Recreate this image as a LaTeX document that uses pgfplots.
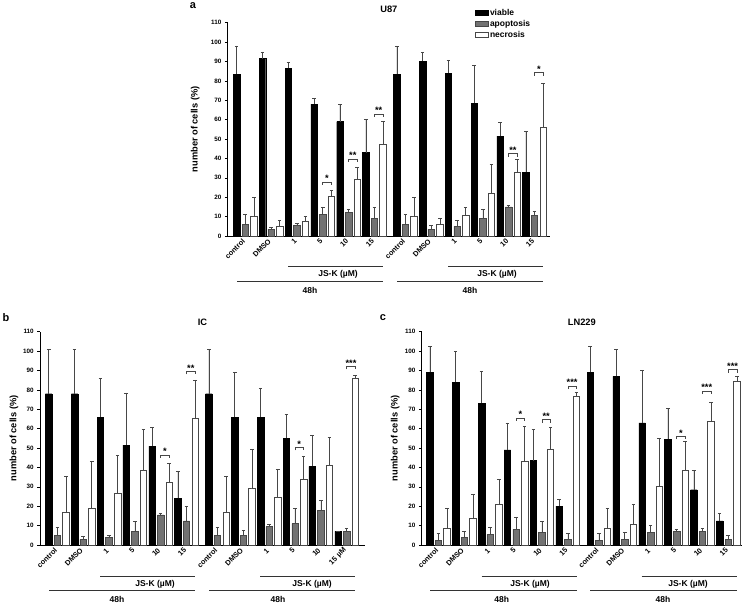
\documentclass[border=0pt]{standalone}
\usepackage{fontspec}
\setmainfont{Liberation Sans}
\usepackage{pgfplots}
\usepackage{pgfplotstable}
\pgfplotsset{compat=1.18}
\usetikzlibrary{calc}

\definecolor{errc}{HTML}{474747}
\definecolor{greybar}{HTML}{727272}

\pgfplotstableread{
x v ve a ae n ne
1 83.5 14.5 6 5 10 10
2 91.5 3.5 3.5 1 5 3
3 86.5 3 5.5 1 7.5 2.5
4 68 3 11 4 20.5 3
5 59 9 12 2 29 6.5
6 43 17 9 6 47.5 11.5
7.2 83.5 14.5 6 5 10 10
8.2 90 4.5 3.5 2 6 3
9.2 84 6.5 5 3 10.5 4.5
10.2 68.5 19.5 9 5 22 15
11.2 51.5 7 15 1 33 6.5
12.2 33 21 10.5 2.5 56 23
}\dataA

\pgfplotstableread{
x v ve a ae n ne
1 78 23 5 4 17 18.5
2 78 23 3 1.5 19 24
3 66 20 4 1 26.5 20
4 51.5 27 7 5 38.5 21
5 51 9.5 15.5 1 32.5 9.5
6 24 14 12.5 7.5 65.5 19.5
7.2 78 23 5 4 17 18.5
8.2 66 23 5 2.5 29 20.5
9.2 66 15 9.5 1 24.5 14.5
10.2 55 12.5 11 8 34 11.5
11.2 40.5 16 18 5 41 14.5
12.2 7 0 7 1.5 86 1.5
}\dataB

\pgfplotstableread{
x v ve a ae n ne
1 89 13.5 2.5 3.5 8.5 10.5
2 84 16 4 3 14 12
3 73 16.5 5.5 3.5 21 13
4 49 14 8 6.5 43 18
5 43.5 16 6.5 5.5 49.5 11
6 20 3.5 3 3 76.5 2.5
7.2 89 13.5 2.5 3.5 8.5 10.5
8.2 87 14 3 3.5 10.5 10.5
9.2 63 27 6.5 3.5 30.5 24.5
10.2 54.5 16 7 1 38.5 15
11.2 28.5 10 7 1.5 64 9.5
12.2 12.5 4 3 2 84.5 2.5
}\dataC

\newcommand{\fytick}{\bfseries\fontsize{6.3}{7}\selectfont}
\newcommand{\fxtick}{\bfseries\fontsize{7.3}{8}\selectfont}
\newcommand{\fmed}{\bfseries\fontsize{8.5}{9}\selectfont}
\newcommand{\flab}{\bfseries\fontsize{9.3}{10}\selectfont}

\newcommand{\sig}[3]{%
  \draw[errc, line width=0.55pt] (axis cs:#1,#2) ++(0pt,-2.8pt) -- ++(0pt,2.8pt) -- ++(8.6pt,0pt) -- ++(0pt,-2.8pt);
  \node[font=\flab, inner sep=0pt, anchor=south] at ($(axis cs:#1,#2)+(4.3pt,0.3pt)$) {#3};
}

\pgfplotsset{
  panel/.style={
    scale only axis, height=213.3pt,
    ymin=0, ymax=110, ytick={0,10,...,110},
    axis x line*=bottom, axis y line*=left,
    axis line style={-, line width=0.7pt, black},
    xtick={1,2,3,4,5,6,7.2,8.2,9.2,10.2,11.2,12.2}, xtick style={draw=none},
    ytick style={line width=0.6pt, black}, tick align=outside, major tick length=2.8pt,
    /pgf/number format/assume math mode=true,
    y tick label style={font=\fytick},
    x tick label style={font=\fxtick, rotate=45, anchor=east, inner sep=1pt, xshift=-1pt},
    ylabel={number of cells (\%)},
    ylabel style={font=\flab, rotate=0, anchor=center},
    title style={font=\flab, at={(0.5,1)}, anchor=center, inner sep=0pt},
    ybar=0pt, bar width=0.25,
    clip=false,
  },
  vbar/.style={fill=black, draw=black, line width=0.4pt, bar shift=-0.333,
    error bars/.cd, y dir=plus, y explicit,
    error bar style={draw=errc, line width=0.55pt},
    error mark options={draw=errc, line width=0.55pt, mark size=1.8pt, rotate=90}},
  abar/.style={fill=greybar, draw=errc, line width=0.5pt, bar shift=0,
    error bars/.cd, y dir=plus, y explicit,
    error bar style={draw=errc, line width=0.55pt},
    error mark options={draw=errc, line width=0.55pt, mark size=1.8pt, rotate=90}},
  nbar/.style={fill=white, draw=errc, line width=0.6pt, bar shift=0.333,
    error bars/.cd, y dir=plus, y explicit,
    error bar style={draw=errc, line width=0.55pt},
    error mark options={draw=errc, line width=0.55pt, mark size=1.8pt, rotate=90}},
}

\begin{document}
\begin{tikzpicture}
\path[use as bounding box] (0pt,0pt) rectangle (746pt,604pt);

% ---------- panel a ----------
\begin{axis}[panel, at={(227.7pt,368pt)}, anchor=south west, width=322.3pt,
  xmin=0.32, xmax=12.8,
  xticklabels={control,DMSO,1,5,10,15,control,DMSO,1,5,10,15},
  ylabel style={at={(axis description cs:-0.101,0.5)}},
  title={U87}, title style={yshift=7.7pt},
  legend style={at={(0.767,1.071)}, anchor=north west, draw=none, fill=none,
    font=\fmed, row sep=0.8pt, inner sep=0pt, nodes={inner sep=1.3pt}},
  legend cell align=left,
  legend image code/.code={\draw[#1] (0pt,-2.8pt) rectangle (13pt,2.8pt);},
]
\addplot[vbar] table[x=x, y=v, y error=ve] {\dataA};
\addlegendentry{viable}
\addplot[abar] table[x=x, y=a, y error=ae] {\dataA};
\addlegendentry{apoptosis}
\addplot[nbar] table[x=x, y=n, y error=ne] {\dataA};
\addlegendentry{necrosis}
\sig{4}{27.8}{*}
\sig{5}{39.8}{**}
\sig{6}{62.9}{**}
\sig{11.2}{42.4}{**}
\sig{12.2}{84.2}{*}
\end{axis}

% ---------- panel b ----------
\begin{axis}[panel, at={(40pt,59pt)}, anchor=south west, width=325pt,
  xmin=0.33, xmax=12.91,
  xticklabels={control,DMSO,1,5,10,15,control,DMSO,1,5,10,15 µM},
  ylabel style={at={(axis description cs:-0.08,0.5)}},
  title={IC}, title style={yshift=3.3pt},
]
\addplot[vbar] table[x=x, y=v, y error=ve] {\dataB};
\addplot[abar] table[x=x, y=a, y error=ae] {\dataB};
\addplot[nbar] table[x=x, y=n, y error=ne] {\dataB};
\sig{5}{46.4}{*}
\sig{6}{89.4}{**}
\sig{10.2}{50.2}{*}
\sig{12.2}{92}{***}
\end{axis}

% ---------- panel c ----------
\begin{axis}[panel, at={(421.7pt,59pt)}, anchor=south west, width=320.3pt,
  xmin=0.355, xmax=12.73,
  xticklabels={control,DMSO,1,5,10,15,control,DMSO,1,5,10,15},
  ylabel style={at={(axis description cs:-0.083,0.5)}},
  title={LN229}, title style={yshift=3.3pt},
]
\addplot[vbar] table[x=x, y=v, y error=ve] {\dataC};
\addplot[abar] table[x=x, y=a, y error=ae] {\dataC};
\addplot[nbar] table[x=x, y=n, y error=ne] {\dataC};
\sig{4}{65.4}{*}
\sig{5}{64.6}{**}
\sig{6}{81.8}{***}
\sig{10.2}{55.9}{*}
\sig{11.2}{79.2}{***}
\sig{12.2}{90.4}{***}
\end{axis}

\begin{scope}[x=1pt, y=1pt]
% ---------- panel letters ----------
\node[font=\bfseries\fontsize{11}{12}\selectfont] at (193,598) {a};
\node[font=\bfseries\fontsize{11}{12}\selectfont] at (6,286) {b};
\node[font=\bfseries\fontsize{11}{12}\selectfont] at (383,286) {c};

% ---------- group annotations ----------
\begin{scope}[draw=black!80, line width=0.8pt]
\draw (288,337.3) -- (383,337.3);
\draw (237,322.3) -- (383,322.3);
\draw (448,337.3) -- (543,337.3);
\draw (397,322.3) -- (543,322.3);
\draw (100,27.3) -- (195,27.3);
\draw (49,13.3) -- (195,13.3);
\draw (260,27.3) -- (355,27.3);
\draw (209,13.3) -- (355,13.3);
\draw (481.7,27.3) -- (576.7,27.3);
\draw (430,13.3) -- (576.7,13.3);
\draw (641.7,27.3) -- (736.7,27.3);
\draw (590,13.3) -- (736.7,13.3);
\end{scope}
\begin{scope}[every node/.style={font=\fmed, inner sep=0pt}]
\node at (338,330) {JS-K (µM)};
\node at (310,314) {48h};
\node at (497,330) {JS-K (µM)};
\node at (470,314) {48h};
\node at (155,19.7) {JS-K (µM)};
\node at (117,5) {48h};
\node at (312,19.7) {JS-K (µM)};
\node at (278,5) {48h};
\node at (530,19.7) {JS-K (µM)};
\node at (501.7,5) {48h};
\node at (688,19.7) {JS-K (µM)};
\node at (663,5) {48h};
\end{scope}
\end{scope}
\end{tikzpicture}
\end{document}
